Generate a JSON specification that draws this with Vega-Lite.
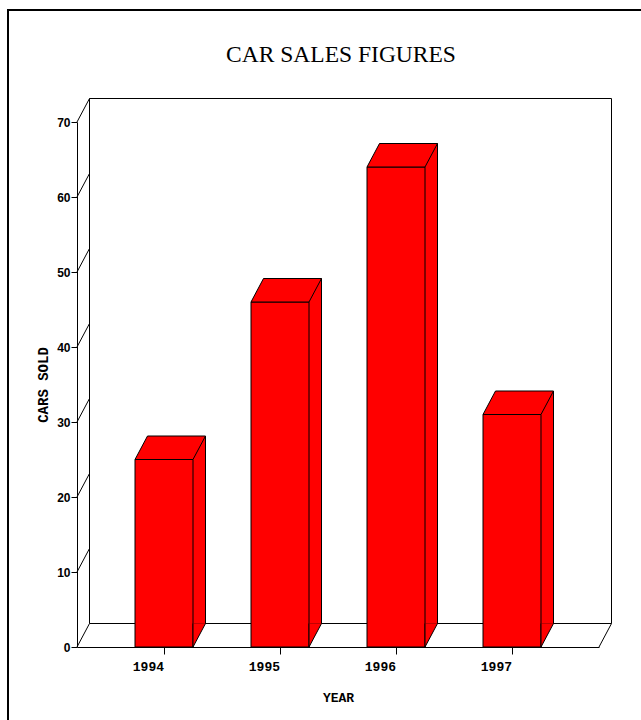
{
  "$schema": "https://vega.github.io/schema/vega-lite/v6.json",
  "width": 522,
  "height": 525,
  "autosize": {"type": "none"},
  "padding": {"left": 77, "top": 122, "right": 42, "bottom": 73},
  "background": "white",
  "title": {"text": "CAR SALES FIGURES", "font": "Liberation Serif", "fontSize": 23.5, "fontWeight": "normal", "color": "black", "anchor": "middle", "baseline": "alphabetic", "offset": -76, "dx": 3},
  "datasets": {
    "sales": [
      {"year": "1994", "cars": 25},
      {"year": "1995", "cars": 46},
      {"year": "1996", "cars": 64},
      {"year": "1997", "cars": 31}
    ],
    "ticks": [{"v": 0}, {"v": 10}, {"v": 20}, {"v": 30}, {"v": 40}, {"v": 50}, {"v": 60}, {"v": 70}],
    "one": [{"k": 1}]
  },
  "data": {"name": "sales"},
  "layer": [
    {
      "data": {"name": "one"},
      "mark": {"type": "rect", "fill": "transparent", "stroke": "black", "strokeWidth": 2, "xOffset": -69, "x2Offset": 100, "yOffset": -112, "y2Offset": 100},
      "encoding": {
        "x": {"value": 0},
        "x2": {"value": "width"},
        "y": {"datum": 70, "type": "quantitative", "scale": {"domain": [0, 70], "nice": false}},
        "y2": {"datum": 0}
      }
    },
    {
      "data": {"name": "one"},
      "mark": {"type": "rect", "fill": "transparent", "stroke": "black", "strokeWidth": 1, "xOffset": 12.5, "x2Offset": 12.5, "yOffset": -23.5, "y2Offset": -23.5},
      "encoding": {
        "x": {"value": 0},
        "x2": {"value": "width"},
        "y": {"datum": 70, "type": "quantitative"},
        "y2": {"datum": 0}
      }
    },
    {
      "data": {"name": "ticks"},
      "mark": {"type": "rule", "color": "black", "strokeWidth": 1, "x2Offset": 12.5, "y2Offset": -23.5},
      "encoding": {
        "x": {"value": 0},
        "x2": {"value": 0},
        "y": {"field": "v", "type": "quantitative"},
        "y2": {"field": "v"}
      }
    },
    {
      "data": {"name": "one"},
      "mark": {"type": "rule", "color": "black", "strokeWidth": 1, "x2Offset": 12.5, "y2Offset": -23.5},
      "encoding": {
        "x": {"value": "width"},
        "x2": {"value": "width"},
        "y": {"datum": 0, "type": "quantitative"},
        "y2": {"datum": 0}
      }
    },
    {
      "mark": {"type": "bar", "fill": "red", "strokeWidth": 0, "xOffset": 12.5, "x2Offset": 12.5, "yOffset": -23.5, "y2Offset": -23.5},
      "encoding": {
        "x": {"field": "year", "type": "nominal", "scale": {"type": "band", "paddingInner": 0.5, "paddingOuter": 0.5}},
        "y": {"field": "cars", "type": "quantitative"}
      }
    },
    {
      "mark": {"type": "bar", "fill": "red", "stroke": "black", "strokeWidth": 1},
      "encoding": {
        "x": {"field": "year", "type": "nominal", "axis": {"title": "YEAR", "labelAngle": 0, "tickSize": 7, "labelPadding": 12, "labelFont": "Liberation Mono", "labelFontSize": 13, "labelFontWeight": "bold", "titleFont": "Liberation Mono", "titleFontSize": 13, "titleFontWeight": "bold", "titlePadding": 18}},
        "y": {"field": "cars", "type": "quantitative", "axis": {"title": "CARS SOLD", "values": [0, 10, 20, 30, 40, 50, 60, 70], "tickSize": 6, "labelPadding": 1, "labelFont": "Liberation Sans", "labelFontSize": 12, "labelFontWeight": "bold", "titleFont": "Liberation Mono", "titleFontSize": 14, "titleFontWeight": "bold", "titlePadding": 6}}
      }
    },
    {
      "mark": {"type": "point", "shape": "M-1.234,0L-0.7021,-1L1.766,-1L1.234,0Z", "size": 2209, "filled": true, "fill": "red", "stroke": "black", "strokeWidth": 1, "opacity": 1},
      "encoding": {
        "x": {"field": "year", "type": "nominal"},
        "y": {"field": "cars", "type": "quantitative"}
      }
    },
    {
      "mark": {"type": "point", "shape": "M0,-1L0,0L0.5319,-1", "size": 2209, "filled": true, "fill": "red", "stroke": "black", "strokeWidth": 1, "opacity": 1, "xOffset": 29},
      "encoding": {
        "x": {"field": "year", "type": "nominal"},
        "y": {"datum": 0, "type": "quantitative"}
      }
    },
    {
      "mark": {"type": "rule", "color": "black", "strokeWidth": 1, "xOffset": 41.5, "yOffset": -23.5, "y2Offset": -23.5},
      "encoding": {
        "x": {"field": "year", "type": "nominal"},
        "y": {"field": "cars", "type": "quantitative"},
        "y2": {"datum": 0}
      }
    }
  ],
  "config": {
    "view": {"stroke": null},
    "axis": {"domainColor": "black", "tickColor": "black", "labelColor": "black", "titleColor": "black", "grid": false, "domainWidth": 1, "tickWidth": 1}
  }
}
